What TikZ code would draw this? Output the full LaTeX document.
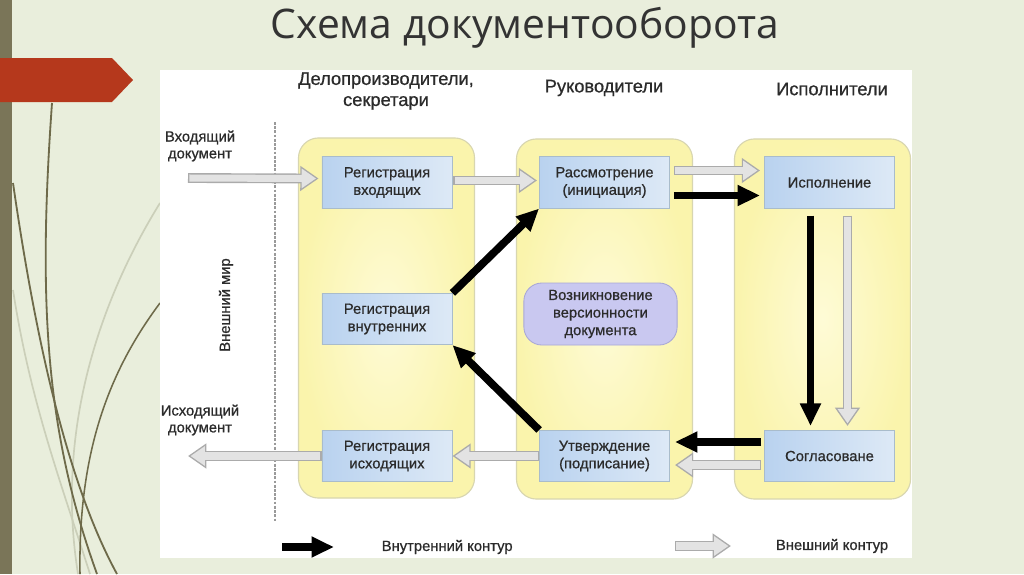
\documentclass[tikz,border=0pt]{standalone}
\usepackage{fontspec}
\setmainfont{Liberation Sans}
\newfontfamily\titlefont{Open Sans}
\newfontfamily\diagfont[FakeBold=0.7]{Liberation Sans}
\usetikzlibrary{arrows.meta, calc, positioning}
\definecolor{slidebg}{HTML}{E9EEDC}
\definecolor{stripe}{HTML}{7A7558}
\definecolor{curve}{HTML}{6E6A4A}
\definecolor{curvelight}{HTML}{CBCFB9}
\definecolor{banner}{HTML}{B5381C}
\definecolor{titlegray}{HTML}{333333}
\definecolor{inktext}{HTML}{2B2B2B}
\definecolor{laneline}{HTML}{D8D6B0}
\definecolor{lanein}{HTML}{FEFBD6}
\definecolor{laneout}{HTML}{FAF4AC}
\definecolor{stageline}{HTML}{A9BCCB}
\definecolor{stageblue}{HTML}{B9D2EF}
\definecolor{stagelight}{HTML}{DDE9F6}
\definecolor{verfill}{HTML}{C9C8F0}
\definecolor{verline}{HTML}{A8A7D6}
\definecolor{extline}{HTML}{ABABAB}
\definecolor{extfill}{HTML}{E3E3E3}
\definecolor{divider}{HTML}{9A9A9A}

% gray hollow arrow of the outer contour
\newcommand{\extflow}[2]{%
  \draw[extout] #1 -- #2;
  \draw[extin]  #1 -- #2;}

\begin{document}
\begin{tikzpicture}[
    x=0.025cm, y=-0.025cm,
    lane/.style={rectangle, rounded corners=0.5cm, draw=laneline, line width=0.8pt,
                 inner color=lanein, outer color=laneout,
                 minimum width=4.4cm, minimum height=9cm},
    stage/.style={rectangle, draw=stageline, line width=0.6pt,
                  left color=stageblue, right color=stagelight,
                  minimum width=3.25cm, minimum height=1.28cm, align=center,
                  font=\diagfont\fontsize{10.5}{12.5}\selectfont, text=inktext},
    version/.style={rectangle, rounded corners=0.45cm, draw=verline, line width=0.6pt,
                    fill=verfill, minimum width=3.83cm, minimum height=1.55cm,
                    align=center, font=\diagfont\fontsize{10.5}{12.5}\selectfont, text=inktext},
    head/.style={align=center, font=\diagfont\fontsize{13}{15}\selectfont, text=inktext},
    side/.style={align=center, font=\diagfont\fontsize{10.5}{12}\selectfont, text=inktext},
    intarr/.style={draw=black, line width=5.5pt, -{Triangle[length=16pt,width=14pt]}},
    extout/.style={draw=extline, line width=7pt, -{Triangle[length=13pt,width=17pt]}},
    extin/.style={draw=extfill, line width=5pt, shorten <=1pt, shorten >=1.8pt,
                  -{Triangle[length=10.2pt,width=13.3pt]}}
]

%% -- slide background --
\fill[slidebg] (0,0) rectangle (1024,574);
\useasboundingbox (0,0) rectangle (1024,574);
\fill[stripe] (0,0) rectangle (12,574);
\draw[curvelight, line width=1.2pt] (160,203) .. controls (100,300) and (55,430) .. (78,574);
\draw[curvelight, line width=1.2pt] (13,290) .. controls (30,400) and (60,480) .. (90,574);
\draw[curve, line width=1.3pt] (52,103) .. controls (38,300) and (45,430) .. (97,574);
\draw[curve, line width=1.3pt] (13,183) .. controls (30,300) and (60,470) .. (117,574);
\draw[curve, line width=1.1pt] (160,303) .. controls (110,370) and (78,450) .. (80,574);
\fill[banner] (0,58) -- (112,58) -- (133,80) -- (112,102) -- (0,102) -- cycle;
\node[font=\titlefont\fontsize{29}{34}\selectfont, text=titlegray] (title) at (525,28) {Схема документооборота};
\fill[white] (160,70) rectangle (912,558);

%% -- lanes and headers --
\node[lane] (L1) at (386.5,318) {};
\node[lane] (L2) at (604.5,319) {};
\node[lane] (L3) at (822.5,319) {};
\node[head] (H1) at (386,91) {Делопроизводители,\\секретари};
\node[head] (H2) at (604,88) {Руководители};
\node[head] (H3) at (832,89) {Исполнители};

%% -- outer world --
\draw[divider, line width=0.8pt, dash pattern=on 2pt off 1pt] (275,122) -- (275,522);
\node[side] (inlab) at (200,146) {Входящий\\документ};
\node[side] (outlab) at (200,420) {Исходящий\\документ};
\node[side, rotate=90] (world) at (226,305) {Внешний мир};
\coordinate (src) at (188,178);
\coordinate (dst) at (188,456);

%% -- stages --
\node[stage] (RV) at (387,182.5) {Регистрация\\входящих};
\node[stage] (RI) at (387,319)   {Регистрация\\внутренних};
\node[stage] (RO) at (387,456)   {Регистрация\\исходящих};
\node[stage] (RS) at (604.5,182.5) {Рассмотрение\\(инициация)};
\node[stage] (UT) at (604.5,456)   {Утверждение\\(подписание)};
\node[stage] (IS) at (829.5,182.5) {Исполнение};
\node[stage] (SG) at (829.5,456)   {Согласоване};
\node[version] (VR) at (600.5,314) {Возникновение\\версионности\\документа};

%% -- inner contour --
\draw[intarr] (RI.north east) -- (RS.south west);
\draw[intarr] ($(RS.east)+(4,13)$) -- ($(IS.west)+(-4,13)$);
\draw[intarr] ($(IS.south)+(-19,7)$) -- ($(SG.north)+(-19,-4)$);
\draw[intarr] ($(SG.west)+(-3,-14)$) -- ($(UT.east)+(5,-14)$);
\draw[intarr] (UT.north west) -- (RI.south east);

%% -- outer contour --
\extflow{(src)}{($(RV.west)+(-3,-4)$)}
\extflow{($(RV.east)+(1,-2)$)}{($(RS.west)+(-2,-2)$)}
\extflow{($(RS.east)+(4,-12)$)}{($(IS.west)+(-4,-12)$)}
\extflow{($(IS.south)+(18,7)$)}{($(SG.north)+(18,-4)$)}
\extflow{($(SG.west)+(-3,9)$)}{($(UT.east)+(5,9)$)}
\extflow{(UT.west)}{(RO.east)}
\extflow{(RO.west)}{(dst)}

%% -- legend --
\coordinate (kin1) at (282,547);
\coordinate (kin2) at (334,547);
\draw[intarr] (kin1) -- (kin2);
\node[side, right=1.07cm of kin2, anchor=west] (kinlab) {Внутренний контур};
\coordinate (kex1) at (675,546);
\coordinate (kex2) at (731,546);
\extflow{(kex1)}{(kex2)}
\node[side, right=1.0cm of kex2, anchor=west] (kexlab) {Внешний контур};

\end{tikzpicture}
\end{document}
